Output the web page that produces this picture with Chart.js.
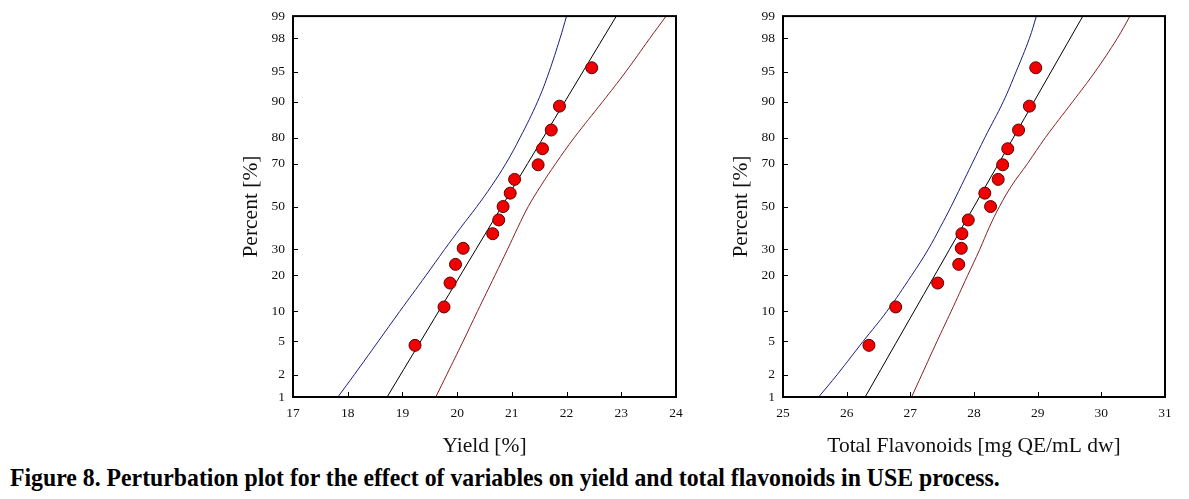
<!DOCTYPE html>
<html>
<head>
<meta charset="utf-8">
<script src="https://cdn.jsdelivr.net/npm/chart.js@4.4.1/dist/chart.umd.min.js"></script>
<style>
  body { margin: 0; background: #fff; width: 1189px; height: 499px; overflow: hidden; position: relative; }
  canvas { position: absolute; top: 0; }
  #cap { position: absolute; left: 10px; top: 464px; font: bold 25px "Liberation Serif", serif; white-space: nowrap; transform-origin: 0 0; color: #000; }
</style>
</head>
<body>
<canvas id="c1" width="700" height="460" style="left:0"></canvas>
<canvas id="c2" width="699" height="460" style="left:490px"></canvas>
<div id="cap">Figure 8. Perturbation plot for the effect of variables on yield and total flavonoids in USE process.</div>
<script>
// probability axis ticks (percent)
const percentTicks = [1, 2, 5, 10, 20, 30, 50, 70, 80, 90, 95, 98, 99];
const yieldTicks = [17, 18, 19, 20, 21, 22, 23, 24];
const flavTicks = [25, 26, 27, 28, 29, 30, 31];

// cumulative percent of each ranked point
const rankPct = [4.5, 11.0, 17.5, 24.0, 30.5, 37.0, 43.5, 50.0, 56.5, 63.0, 69.5, 76.0, 82.5, 89.0, 95.5];
const yieldVals = [19.23, 19.76, 19.87, 19.97, 20.11, 20.65, 20.76, 20.84, 20.97, 21.05, 21.48, 21.56, 21.72, 21.87, 22.46];
const flavVals = [26.35, 26.77, 27.43, 27.76, 27.80, 27.81, 27.91, 28.26, 28.17, 28.38, 28.45, 28.53, 28.70, 28.87, 28.97];

// confidence band curves, read at these percent levels
const bandPct = [1, 2, 5, 10, 20, 30, 40, 50, 60, 70, 80, 90, 95, 98, 99];
const yieldBandLeft = [17.82, 18.12, 18.56, 18.95, 19.43, 19.77, 20.07, 20.36, 20.63, 20.89, 21.15, 21.47, 21.68, 21.88, 22.00];
const yieldBandRight = [19.61, 19.81, 20.11, 20.37, 20.69, 20.92, 21.11, 21.30, 21.53, 21.80, 22.14, 22.66, 23.08, 23.52, 23.82];
const flavBandLeft = [25.56, 25.85, 26.26, 26.63, 27.02, 27.28, 27.47, 27.64, 27.80, 27.97, 28.17, 28.46, 28.66, 28.87, 28.98];
const flavBandRight = [27.02, 27.18, 27.42, 27.64, 27.90, 28.09, 28.24, 28.40, 28.59, 28.84, 29.12, 29.55, 29.90, 30.25, 30.45];

// fitted normal line ends
const fitPct = [1, 99];
const yieldFit = [18.72, 22.91];
const flavFit = [26.29, 29.71];

// inverse normal cdf (Acklam)
function probit(p) {
  const a = [-39.69683028665376, 220.9460984245205, -275.9285104469687, 138.3577518672690, -30.66479806614716, 2.506628277459239];
  const b = [-54.47609879822406, 161.5858368580409, -155.6989798598866, 66.80131188771972, -13.28068155288572];
  const c = [-0.007784894002430293, -0.3223964580411365, -2.400758277161838, -2.549732539343734, 4.374664141464968, 2.938163982698783];
  const d = [0.007784695709041462, 0.3224671290700398, 2.445134137142996, 3.754408661907416];
  let q, r;
  if (p < 0.02425) {
    q = Math.sqrt(-2 * Math.log(p));
    return (((((c[0]*q+c[1])*q+c[2])*q+c[3])*q+c[4])*q+c[5]) / ((((d[0]*q+d[1])*q+d[2])*q+d[3])*q+1);
  }
  if (p > 1 - 0.02425) {
    q = Math.sqrt(-2 * Math.log(1 - p));
    return -(((((c[0]*q+c[1])*q+c[2])*q+c[3])*q+c[4])*q+c[5]) / ((((d[0]*q+d[1])*q+d[2])*q+d[3])*q+1);
  }
  q = p - 0.5; r = q * q;
  return (((((a[0]*r+a[1])*r+a[2])*r+a[3])*r+a[4])*r+a[5])*q / (((((b[0]*r+b[1])*r+b[2])*r+b[3])*r+b[4])*r+1);
}

// normal probability scale: values in percent, spaced by z score
class ProbitScale extends Chart.LinearScale {
  determineDataLimits() {
    this.min = probit(percentTicks[0] / 100);
    this.max = probit(percentTicks[percentTicks.length - 1] / 100);
  }
  buildTicks() {
    return percentTicks.map(v => ({ value: v }));
  }
  getPixelForValue(v) {
    return super.getPixelForValue(probit(v / 100));
  }
}
ProbitScale.id = 'probit';
ProbitScale.defaults = {};
Chart.register(ProbitScale);

// inward ticks + box round the plot
const frame = {
  id: 'frame',
  afterDatasetsDraw(chart) {
    const { ctx, chartArea: a, scales } = chart;
    ctx.save();
    ctx.strokeStyle = '#000';
    ctx.lineWidth = 1;
    ctx.beginPath();
    scales.x.ticks.forEach(t => {
      const px = Math.round(scales.x.getPixelForValue(t.value)) + 0.5;
      ctx.moveTo(px, a.bottom); ctx.lineTo(px, a.bottom - 5);
    });
    scales.y.ticks.forEach(t => {
      const py = Math.round(scales.y.getPixelForValue(t.value)) + 0.5;
      ctx.moveTo(a.left, py); ctx.lineTo(a.left + 5, py);
    });
    ctx.stroke();
    ctx.lineWidth = 2;
    ctx.strokeRect(a.left, a.top, a.right - a.left, a.bottom - a.top);
    ctx.restore();
  }
};

const serif = '"Liberation Serif", "Times New Roman", serif';

function pairs(xs, ps) {
  return xs.map((x, i) => ({ x: x, y: ps[i] }));
}

function curve(xs, ps, color) {
  return {
    type: 'line', data: pairs(xs, ps), borderColor: color, borderWidth: 1,
    pointRadius: 0, tension: 0.4, order: 1
  };
}

function makeChart(id, xTicks, xTitle, vals, left, right, fit) {
  return new Chart(document.getElementById(id), {
    type: 'scatter',
    data: {
      datasets: [
        {
          data: pairs(vals, rankPct),
          backgroundColor: '#f00000',
          borderColor: '#600000',
          borderWidth: 1,
          pointRadius: 6,
          order: 0
        },
        curve(fit, fitPct, '#000'),
        curve(left, bandPct, '#1c1c86'),
        curve(right, bandPct, '#8a1f1f')
      ]
    },
    options: {
      responsive: false,
      animation: false,
      events: [],
      layout: { padding: { left: 238, right: 24, top: 15, bottom: 0 } },
      plugins: { legend: { display: false }, tooltip: { enabled: false } },
      scales: {
        x: {
          type: 'linear',
          min: xTicks[0],
          max: xTicks[xTicks.length - 1],
          afterBuildTicks: s => { s.ticks = xTicks.map(v => ({ value: v })); },
          afterFit: s => { s.height = 63; },
          grid: { display: false, drawTicks: false },
          border: { display: false },
          ticks: { padding: 8, color: '#111', font: { family: serif, size: 13.5 } },
          title: { display: true, text: xTitle, color: '#111', padding: { top: 0, bottom: 1 }, font: { family: serif, size: 21.5 } }
        },
        y: {
          type: 'probit',
          afterFit: s => { s.width = 55; },
          grid: { display: false, drawTicks: false },
          border: { display: false },
          ticks: { autoSkip: false, padding: 8, color: '#111', font: { family: serif, size: 13.5 }, callback: v => String(v) },
          title: { display: true, text: 'Percent [%]', color: '#111', padding: 0, font: { family: serif, size: 21.5 } }
        }
      }
    },
    plugins: [frame]
  });
}

makeChart('c1', yieldTicks, 'Yield [%]', yieldVals, yieldBandLeft, yieldBandRight, yieldFit);
makeChart('c2', flavTicks, 'Total Flavonoids [mg QE/mL dw]', flavVals, flavBandLeft, flavBandRight, flavFit);

const cap = document.getElementById('cap');
cap.style.transform = 'scaleX(' + (990 / cap.offsetWidth) + ')';
</script>
</body>
</html>
